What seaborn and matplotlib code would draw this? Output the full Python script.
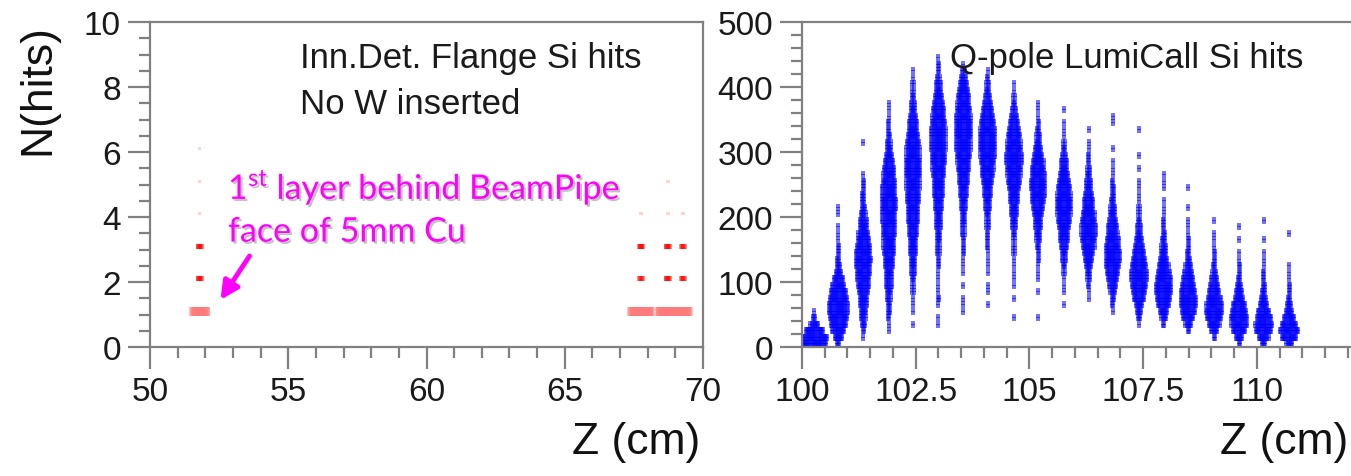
import numpy as np
import pandas as pd
import matplotlib
matplotlib.use("Agg")
import matplotlib.pyplot as plt
import matplotlib.patheffects as pe
from matplotlib.ticker import MultipleLocator
import seaborn as sns

# ---------------- data ----------------
# Left panel: Inner-detector flange Si hits (z, n hits, entries)
left_z = [51.8] * 6 + [67.76] * 4 + [68.73] * 5 + [69.27] * 4
left_n = [1, 2, 3, 4, 5, 6, 1, 2, 3, 4, 1, 2, 3, 4, 5, 1, 2, 3, 4]
left_cnt = [16, 5, 5, 1, 1, 1, 24, 4, 5, 1, 22, 5, 5, 1, 1, 15, 4, 4, 1]

# Right panel: Q-pole LumiCal Si hits, per layer: z, lowest 10-hit bin, entries per bin
layer_z = [100.27, 100.80, 101.35, 101.91, 102.44, 103.00, 103.55, 104.08, 104.66, 105.19,
           105.76, 106.30, 106.83, 107.41, 107.95, 108.49, 109.06, 109.61, 110.15, 110.71]
layer_start = [0, 0, 10, 20, 30, 30, 50, 60, 40, 40,
               60, 70, 50, 30, 30, 20, 10, 0, 0, 0]
prof01 = [22, 25, 17, 8, 3, 1]
prof02 = [3, 8, 12, 15, 17, 18, 18, 17, 15, 12, 9, 6, 4, 3, 2, 2, 1, 1, 1, 0, 1, 1]
prof03 = [1, 2, 4, 5, 6, 7, 8, 9, 11, 12, 13, 14, 15, 14, 13, 11, 10, 8, 7, 5, 4, 3, 3, 2, 2, 1,
          0, 0, 0, 0, 1]
prof04 = [1, 1, 2, 3, 3, 4, 5, 6, 6, 7, 8, 9, 10, 11, 11, 12, 12, 13, 13, 14, 14, 13, 13, 12, 11,
          10, 8, 7, 5, 4, 3, 2, 2, 1, 1, 1]
prof05 = [1, 0, 1, 1, 1, 2, 2, 3, 4, 5, 5, 6, 7, 7, 8, 9, 10, 10, 11, 12, 12, 13, 13, 14, 14, 14,
          13, 13, 12, 11, 9, 8, 6, 5, 4, 3, 2, 2, 1, 1]
prof06 = [1, 1, 0, 1, 2, 1, 1, 1, 1, 2, 2, 3, 3, 4, 4, 5, 6, 6, 7, 8, 9, 10, 10, 11, 12, 13, 13,
          14, 14, 14, 14, 13, 12, 11, 9, 8, 6, 5, 3, 2, 2, 1]
prof07 = [1, 1, 1, 0, 1, 0, 1, 1, 1, 2, 2, 2, 3, 3, 4, 4, 5, 6, 7, 8, 9, 10, 11, 12, 13, 14, 14,
          15, 15, 15, 14, 13, 12, 11, 10, 8, 5, 3, 1]
prof08 = [1, 0, 1, 1, 0, 1, 1, 1, 1, 2, 2, 2, 3, 3, 4, 5, 6, 7, 8, 10, 11, 12, 13, 14, 15, 15, 15,
          14, 13, 11, 9, 7, 5, 4, 3, 2, 1]
prof09 = [1, 0, 0, 1, 0, 1, 1, 1, 1, 1, 2, 2, 2, 3, 4, 5, 6, 7, 8, 9, 11, 12, 13, 14, 15, 15, 14,
          13, 12, 10, 8, 6, 4, 3, 2, 1, 1]
prof10 = [1, 0, 0, 0, 1, 0, 1, 1, 1, 2, 2, 3, 4, 5, 6, 7, 9, 10, 12, 13, 14, 14, 13, 12, 11, 9, 7,
          5, 4, 3, 2, 1, 1, 1]
prof11 = [1, 0, 1, 1, 1, 2, 3, 4, 5, 6, 8, 9, 11, 12, 13, 14, 14, 13, 12, 11, 9, 7, 6, 4, 3, 2, 1,
          1, 1, 0, 1]
prof12 = [1, 1, 2, 3, 4, 6, 8, 10, 12, 13, 14, 14, 13, 12, 10, 9, 7, 6, 5, 4, 3, 2, 2, 1, 1, 0, 1]
prof13 = [1, 2, 3, 5, 7, 9, 11, 13, 14, 14, 13, 12, 10, 9, 7, 6, 5, 4, 3, 3, 2, 1, 1, 1, 0, 1, 0,
          0, 0, 1, 1]
prof14 = [1, 3, 5, 7, 10, 12, 14, 15, 15, 14, 12, 10, 8, 7, 5, 4, 3, 2, 2, 1, 1, 1, 1, 0, 1, 0, 1,
          0, 0, 0, 1]
prof15 = [2, 5, 8, 11, 13, 15, 15, 14, 12, 10, 8, 6, 5, 4, 3, 2, 2, 1, 1, 1, 0, 1, 1, 1]
prof16 = [2, 6, 10, 13, 15, 15, 14, 12, 10, 8, 6, 4, 3, 2, 2, 1, 1, 1, 0, 1, 0, 0, 1]
prof17 = [2, 6, 11, 14, 16, 15, 13, 10, 8, 6, 4, 3, 2, 2, 1, 1, 1, 0, 1]
prof18 = [2, 7, 12, 15, 16, 14, 12, 9, 7, 5, 3, 2, 2, 1, 1, 0, 1, 0, 1]
prof19 = [4, 10, 15, 16, 14, 11, 8, 6, 4, 3, 2, 2, 1, 1, 1, 0, 1, 0, 0, 1]
prof20 = [6, 14, 17, 14, 10, 7, 5, 3, 2, 2, 1, 1, 1, 0, 0, 0, 0, 1]
layer_profiles = [prof01, prof02, prof03, prof04, prof05, prof06, prof07, prof08, prof09, prof10,
                  prof11, prof12, prof13, prof14, prof15, prof16, prof17, prof18, prof19, prof20]
BIN = 10

# ---------------- build scatter tables ----------------
def dot_rows(centres, ys, counts, dx, tags=None):
    xs, yy, tt = [], [], []
    if tags is None:
        tags = [0] * len(centres)
    for c, y, n, t in zip(centres, ys, counts, tags):
        for k in range(n):
            xs.append(c + (k - (n - 1) / 2.0) * dx)
            yy.append(y)
            tt.append(t)
    return pd.DataFrame({"z": xs, "nhits": yy, "n": tt})

left_df = dot_rows(left_z, [n + 0.1 for n in left_n], left_cnt, 0.03, tags=left_n)

rc, ry, rn = [], [], []
for z, s0, prof in zip(layer_z, layer_start, layer_profiles):
    for j, cnt in enumerate(prof):
        for sub in (0.25, 0.75):
            rc.append(z)
            ry.append(s0 + BIN * (j + sub))
            rn.append(cnt)
right_df = dot_rows(rc, ry, rn, 0.024)

# ---------------- figure ----------------
sns.set_theme(style="white")
plt.rcParams["font.family"] = ["Liberation Sans", "DejaVu Sans"]
plt.rcParams["mathtext.fontset"] = "custom"
plt.rcParams["mathtext.rm"] = "Lato"

W, H = 1351, 477
fig = plt.figure(figsize=(W / 100, H / 100), dpi=100)
fig.patch.set_facecolor("white")

axL = fig.add_axes([150 / W, 1 - 348 / H, 553 / W, 325 / H])
axR = fig.add_axes([802 / W, 1 - 348 / H, 549 / W, 325 / H])

red_pal = {1: "#ff7a7a", 2: "#ff0000", 3: "#ff0000", 4: "#ff9a9a", 5: "#ff9a9a", 6: "#ff9a9a"}
size_map = {1: 40, 2: 14, 3: 14, 4: 6, 5: 6, 6: 6}
sns.scatterplot(data=left_df, x="z", y="nhits", hue="n", palette=red_pal,
                size="n", sizes=size_map, ax=axL,
                marker="s", alpha=0.45, linewidth=0, legend=False)
sns.scatterplot(data=right_df, x="z", y="nhits", ax=axR, marker="s", s=5.5,
                color="#0000ff", alpha=0.55, linewidth=0, legend=False)

axL.set_xlim(50, 70)
axL.set_ylim(0, 10)
axR.set_xlim(100, 112.07)
axR.set_ylim(0, 500)

axL.xaxis.set_major_locator(MultipleLocator(5))
axL.xaxis.set_minor_locator(MultipleLocator(1))
axL.yaxis.set_major_locator(MultipleLocator(2))
axL.yaxis.set_minor_locator(MultipleLocator(0.5))
axR.xaxis.set_major_locator(MultipleLocator(2.5))
axR.xaxis.set_minor_locator(MultipleLocator(0.5))
axR.yaxis.set_major_locator(MultipleLocator(100))
axR.yaxis.set_minor_locator(MultipleLocator(20))

frame_col = "#808080"
for ax in (axL, axR):
    ax.set_facecolor("white")
    ax.set_xlabel("")
    ax.set_ylabel("")
    for sp in ax.spines.values():
        sp.set_color(frame_col)
        sp.set_linewidth(1.6)
    ax.tick_params(which="major", direction="out", length=16, width=1.6, color=frame_col,
                   labelsize=24, labelcolor="#1a1a1a", pad=5, bottom=True, left=True,
                   top=False, right=False)
    ax.tick_params(which="minor", direction="out", length=8, width=1.6, color=frame_col,
                   bottom=True, left=True, top=False, right=False)
axR.spines["right"].set_visible(False)

axR.xaxis.set_major_formatter(matplotlib.ticker.FuncFormatter(
    lambda v, p: f"{v:g}"))

# titles inside panels
axL.text(0.271, 0.892, "Inn.Det. Flange Si hits", transform=axL.transAxes,
         fontsize=25, color="#1a1a1a", ha="left", va="center")
axL.text(0.271, 0.748, "No W inserted", transform=axL.transAxes,
         fontsize=25, color="#1a1a1a", ha="left", va="center")
axR.text(0.27, 0.892, "Q-pole LumiCall Si hits", transform=axR.transAxes,
         fontsize=25, color="#1a1a1a", ha="left", va="center")

# axis titles
fig.text(38 / W, 1 - 90 / H, "N(hits)", rotation=90, fontsize=32, color="#111111",
         ha="center", va="center")
fig.text(700 / W, 1 - 443 / H, "Z (cm)", fontsize=32, color="#111111",
         ha="right", va="center")
fig.text(1348 / W, 1 - 443 / H, "Z (cm)", fontsize=32, color="#111111",
         ha="right", va="center")

# magenta annotation
shadow = [pe.SimplePatchShadow(offset=(1.5, -1.5), shadow_rgbFace="#9a9a9a", alpha=0.6),
          pe.Normal()]
axL.text(52.82, 4.92, "1$^{\\mathrm{st}}$ layer behind BeamPipe", fontsize=24.5,
         family=["Lato", "DejaVu Sans"], color="#ff00ff", ha="left", va="center",
         path_effects=shadow)
axL.text(52.82, 3.55, "face of 5mm Cu", fontsize=24.5, family=["Lato", "DejaVu Sans"],
         color="#ff00ff", ha="left", va="center", path_effects=shadow)
axL.annotate("", xy=(52.55, 1.45), xytext=(53.6, 2.8),
             arrowprops=dict(arrowstyle="-|>,head_length=0.9,head_width=0.45",
                             color="#ff00ff", lw=3.5, shrinkA=0, shrinkB=0),
             path_effects=shadow)

fig.savefig("out.png", dpi=100, facecolor="white")
